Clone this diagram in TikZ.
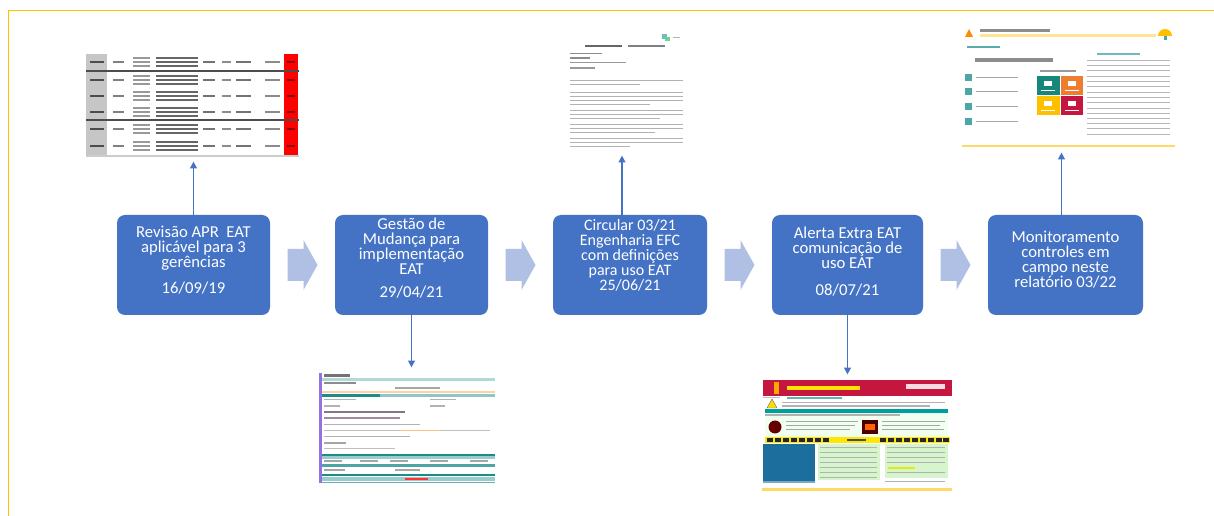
\documentclass[tikz,border=0pt]{standalone}
\usepackage{fontspec}
\setmainfont{Carlito}
\usetikzlibrary{arrows.meta,fit,calc}
\definecolor{boxblue}{HTML}{4472C4}
\definecolor{blockblue}{RGB}{176,192,228}
\definecolor{framey}{HTML}{FFC000}
\definecolor{dteal}{HTML}{1A8C8C}
\definecolor{crimson}{HTML}{C4163F}
\definecolor{paleyel}{HTML}{FFD966}
\definecolor{palegreen}{HTML}{D6F5CC}
\definecolor{alertblue}{HTML}{1C6E9C}
\definecolor{dashorange}{HTML}{ED7D31}
\definecolor{dashteal}{HTML}{16877A}
\newcommand\boxfont{\fontsize{12.5}{11.25}\selectfont\lineskiplimit=-20pt\relax}
\newcommand\boxfontb{\fontsize{12}{11.3}\selectfont\lineskiplimit=-20pt\relax}
\begin{document}
\begin{tikzpicture}[x=0.75pt,y=-0.75pt,
  stepbox/.style={fill=boxblue, rounded corners=6pt, inner sep=0pt},
  lbl/.style={text=white, align=center, font=\boxfont, inner sep=0pt},
  imgframe/.style={inner sep=0pt},
  thinarrow/.style={draw=boxblue, line width=1.1pt, -{Triangle[width=5pt,length=5pt]}, shorten >=4pt},
  blockarrow/.style={fill=blockblue}]
\useasboundingbox (0,0) rectangle (1214,516);
\fill[white] (0,0) rectangle (1214,516);
% frame
\draw[framey, line width=1.2pt] (1214,10.5) -- (8.5,10.5) -- (8.5,516);

% ---------- process boxes ----------
\node[stepbox, fit={(117,215)(270,315)}] (b1) {};
\node[stepbox, fit={(335,215)(488,315)}] (b2) {};
\node[stepbox, fit={(553,215)(707,315)}] (b3) {};
\node[stepbox, fit={(772,215)(923,315)}] (b4) {};
\node[stepbox, fit={(988,215)(1143,315)}] (b5) {};

\node[lbl] (t1) at (193.5,260) {Revisão APR~ EAT\\aplicável para 3\\gerências\\[8.5pt]16/09/19};
\node[lbl] (t2) at (411.5,258) {Gestão de\\Mudança para\\implementação\\EAT\\[6pt]29/04/21};
\node[lbl, font=\boxfontb] (t3) at (630,255) {Circular 03/21\\Engenharia EFC\\com definições\\para uso EAT\\25/06/21};
\node[lbl] (t4) at (847.5,261.5) {Alerta Extra EAT\\comunicação de\\uso EAT\\[9pt]08/07/21};
\node[lbl] (t5) at (1065.5,260) {Monitoramento\\controles em\\campo neste\\relatório 03/22};

% ---------- block arrows ----------
\foreach \l/\r/\n in {b1/b2/a1,b2/b3/a2,b3/b4/a3,b4/b5/a4}{
  \coordinate (\n) at ($(\l.east)!0.5!(\r.west)$);
  \fill[blockarrow] ([shift={(-15,-16)}]\n) -- ++(16,0) -- ++(0,-9) -- ++(14,25)
     -- ++(-14,25) -- ++(0,-9) -- ++(-16,0) -- cycle;
}

% ---------- image 1 : APR table ----------
\node[imgframe, fit={(86,54)(299,156)}, fill=white] (i1) {};
\fill[gray!45] (86,54) rectangle (107,156);
\fill[red] (284,54) rectangle (298,156);
\foreach \y in {62,80,96,112,129,146}{
  \fill[black!70] (90,\y-1) rectangle (104,\y+1);
  \fill[black!50] (113,\y-0.7) rectangle (124,\y+0.7);
  \foreach \d in {-4,0,4}{
    \fill[black!40] (133,\y+\d-0.6) rectangle (150,\y+\d+0.6);
    \fill[black!60] (156,\y+\d-0.8) rectangle (198,\y+\d+0.8);
  }
  \fill[black!55] (203,\y-1) rectangle (215,\y+1);
  \fill[black!45] (222,\y-0.7) rectangle (231,\y+0.7);
  \fill[black!55] (236,\y-1) rectangle (251,\y+1);
  \fill[black!45] (265,\y-0.7) rectangle (280,\y+0.7);
  \fill[red!55!black] (287,\y-1) rectangle (295,\y+1);
}
\draw[black!70, line width=1pt] (86,71) -- (299,71);
\draw[black!70, line width=1pt] (86,120) -- (299,120);
\draw[gray!40, line width=0.8pt] (86,156) -- (299,156);

% ---------- image 2 : change management form ----------
\node[imgframe, fit={(319,373)(495,483)}, fill=white] (i2) {};
\fill[violet!45!blue!55] (319,373) rectangle (322,483);
\fill[black!55] (324,374) rectangle (350,377);
\fill[teal!30] (322,378) rectangle (495,381);
\fill[black!45] (324,382) rectangle (356,384);
\fill[black!35] (395,387) rectangle (440,389);
\fill[orange!35] (322,391) rectangle (495,393);
\fill[dteal] (322,394) rectangle (380,397);
\fill[teal!45] (380,394) rectangle (495,397);
\fill[black!30] (324,399) rectangle (356,400.5); \fill[black!30] (430,399) rectangle (456,400.5);
\fill[black!30] (324,405.5) rectangle (340,407); \fill[black!30] (430,405.5) rectangle (445,407);
\fill[violet!30!black!55] (324,411) rectangle (405,413.5);
\fill[violet!30!black!45] (324,417) rectangle (400,419.5);
\fill[black!30] (324,424) rectangle (420,425.5);
\fill[black!25] (324,430) rectangle (400,431.5); \fill[orange!50] (400,430) rectangle (440,431.5); \fill[black!25] (440,430) rectangle (490,431.5);
\fill[black!30] (324,436) rectangle (410,437.5);
\fill[black!35] (324,442) rectangle (346,444);
\fill[black!25] (324,448) rectangle (395,449.5);
\fill[dteal] (322,454) rectangle (495,456);
\fill[teal!40] (322,456) rectangle (495,459);
\foreach \x in {324,360,390,430,470}{ \fill[black!35] (\x,460.5) rectangle (\x+18,462); }
\fill[teal!70] (322,464) rectangle (495,467);
\fill[black!35] (324,469.5) rectangle (345,471); \fill[black!35] (395,469.5) rectangle (420,471);
\fill[dteal] (322,474) rectangle (495,476);
\fill[teal!40] (322,477) rectangle (495,481);
\fill[red!80] (405,478) rectangle (428,480);
\fill[teal!60] (322,482) rectangle (495,483);

% ---------- image 3 : circular document ----------
\node[imgframe, fit={(566,31)(686,150)}] (i3) {};
\fill[teal!55] (662,34) rectangle (667,39);
\fill[green!45!teal!60] (665,37) rectangle (670,41);
\fill[black!30] (673,37) rectangle (680,38.5);
\fill[black!60] (585,45) rectangle (622,47.5);
\fill[black!50] (628,45) rectangle (665,47.5);
\fill[black!45] (570,53) rectangle (602,54.5);
\fill[black!45] (570,57.5) rectangle (590,59);
\fill[black!40] (570,62) rectangle (626,63.5);
\fill[black!40] (570,67.5) rectangle (595,69);
\foreach \y/\e in {80/683,84/640,92/683,96/683,100/683,104/650,110/683,114/683,118/660,124/683,128/683,132/655,138/683,142/683,146/630}{
  \fill[black!30] (570,\y) rectangle (\e,\y+1.3);
}

% ---------- image 4 : extra alert ----------
\node[imgframe, fit={(763,380)(952,492)}, fill=white] (i4) {};
\fill[crimson] (763,380) rectangle (952,396);
\fill[orange!70!yellow] (774,382) rectangle (779,394);
\fill[yellow!85!orange] (787,386) rectangle (860,390);
\fill[white!85!crimson] (906,384) rectangle (945,389);
\fill[black!25] (763,397) rectangle (780,398.2);
\fill[teal!60] (787,397) rectangle (842,399.5);
\filldraw[fill=yellow!80!orange, draw=black!60, line width=0.3pt] (767,408) -- (772,399) -- (777,408) -- cycle;
\fill[black!30] (782,402) rectangle (945,403.3);
\fill[black!30] (782,405.5) rectangle (930,406.8);
\fill[teal!75!cyan] (765,409) rectangle (948,413);
\fill[green!6] (765,413) rectangle (948,437);
\fill[black!30] (765,414.5) rectangle (900,415.8);
\fill[red!40!black] (775,427) circle[radius=6.5];
\fill[black!35] (786,421) rectangle (858,422.3);
\fill[black!35] (786,425) rectangle (855,426.3);
\fill[black!35] (786,429) rectangle (850,430.3);
\fill[red!30!black] (862,420) rectangle (878,434);
\fill[orange!80!red] (865,424) rectangle (875,430);
\fill[black!35] (882,421) rectangle (945,422.3);
\fill[black!35] (882,425) rectangle (940,426.3);
\fill[black!35] (882,429) rectangle (944,430.3);
\fill[yellow!90!orange] (765,437) rectangle (950,443);
\foreach \x in {767,775,783,791,799,807,815,823}{ \fill[black!85] (\x,438) rectangle (\x+5.5,442); }
\foreach \x in {880,888,896,904,912,920,928,936,943}{ \fill[black!85] (\x,438) rectangle (\x+5.5,442); }
\fill[black!70] (847,439.3) rectangle (866,440.7);
\fill[alertblue] (763,444) rectangle (815,483);
\fill[alertblue!60!white] (763,481) rectangle (815,483);
\fill[palegreen] (818,444) rectangle (880,480);
\fill[palegreen] (885,444) rectangle (948,478);
\foreach \y in {447,452,457,462,467,472,477}{
  \fill[black!30] (820,\y) rectangle (877,\y+1.2);
}
\foreach \y in {447,452,457,462,472}{
  \fill[black!30] (887,\y) rectangle (945,\y+1.2);
}
\fill[yellow!90!green] (888,467) rectangle (915,469.5);
\fill[black!30] (885,481) rectangle (945,482.2);
\fill[paleyel] (762,488) rectangle (952,491);

% ---------- image 5 : dashboard ----------
\node[imgframe, fit={(962,25)(1175,147)}, fill=white] (i5) {};
\fill[orange!90!yellow] (965,37) -- (969,29) -- (973,37) -- cycle;
\fill[black!45] (980,29) rectangle (1050,32);
\fill[paleyel!70] (980,34) rectangle (1156,37);
\fill[framey] (1158,36) arc[start angle=180,end angle=360,radius=7];
\fill[teal!70] (1164,36) rectangle (1167,40);
\fill[teal!65] (967,46) rectangle (1000,48);
\fill[black!45] (975,58) rectangle (1053,62);
\foreach \y in {78,92,107,122}{
  \fill[teal!70] (965,\y-4) rectangle (972,\y+3);
  \fill[black!35] (976,\y-1) rectangle (1018,\y+0.5);
}
\fill[black!40] (1040,70) rectangle (1076,72);
\fill[dashteal] (1037,76) rectangle (1060,95);
\fill[dashorange] (1061,76) rectangle (1083,95);
\fill[framey] (1037,96) rectangle (1060,115);
\fill[crimson] (1061,96) rectangle (1083,115);
\foreach \x/\y in {1048/83,1072/83,1048/103,1072/103}{
  \fill[white!85] (\x-4,\y-2) rectangle (\x+4,\y+3);
  \fill[white!70] (\x-7,\y+7) rectangle (\x+7,\y+8.2);
}
\fill[teal!55] (1097,53) rectangle (1140,55);
\foreach \y in {60,65,70,76,81,86,92,97,102,108,113,118,123,128,134}{
  \fill[black!28] (1087,\y) rectangle (1170,\y+1.2);
}
\fill[paleyel] (962,145) rectangle (1175,147);

% ---------- connectors ----------
\draw[thinarrow] (b1.north) -- (b1.north |- i1.south);
\draw[thinarrow] (b2.south) -- (b2.south |- i2.north);
\draw[thinarrow] ([xshift=-6]b3.north) -- ([xshift=-6]b3.north |- i3.south);
\draw[thinarrow] (b4.south) -- (b4.south |- i4.north);
\draw[thinarrow] ([xshift=-3]b5.north) -- ([xshift=-3]b5.north |- i5.south);
\end{tikzpicture}
\end{document}
